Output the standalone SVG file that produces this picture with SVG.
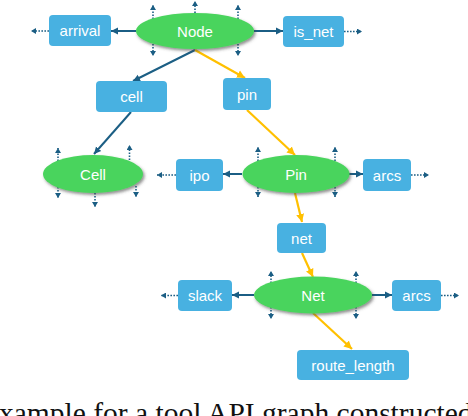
<svg xmlns="http://www.w3.org/2000/svg" width="468" height="416" viewBox="0 0 468 416">
<defs>
<style>
.box{fill:#48B1E1}
.ell{fill:#49D45D;filter:url(#sh)}
.lbl{font-family:"Liberation Sans",Arial,sans-serif;font-size:15px;fill:#fff;text-anchor:middle}
.e{stroke:#1B5E84;stroke-width:2;fill:none;marker-end:url(#ad)}
.o{stroke:#FFC000;stroke-width:2.2;fill:none;marker-end:url(#ao)}
.s{stroke:#1B5E84;stroke-width:1.6;stroke-dasharray:1.6 1.4;fill:none;marker-end:url(#as)}
.cap{font-family:"Liberation Serif","Times New Roman",serif;font-size:29.5px;fill:#111}
</style>
<filter id="sh" x="-20%" y="-30%" width="140%" height="170%">
<feDropShadow dx="1.5" dy="2" stdDeviation="1.5" flood-color="#444" flood-opacity="0.6"/>
</filter>
<marker id="ad" markerUnits="userSpaceOnUse" markerWidth="8" markerHeight="8" refX="7" refY="4" orient="auto"><path d="M0,0.5 L7,4 L0,7.5 z" fill="#1B5E84"/></marker>
<marker id="ao" markerUnits="userSpaceOnUse" markerWidth="9" markerHeight="9" refX="8" refY="4.5" orient="auto"><path d="M0,0.5 L8,4.5 L0,8.5 z" fill="#FFC000"/></marker>
<marker id="as" markerUnits="userSpaceOnUse" markerWidth="6" markerHeight="6" refX="5" refY="3" orient="auto"><path d="M0,0 L5,3 L0,6 z" fill="#1B5E84"/></marker>
</defs>

<g id="connectors">
<line class="e" x1="136" y1="31" x2="111" y2="31"/>
<line class="s" x1="49" y1="31" x2="31" y2="31"/>
<line class="e" x1="254" y1="31" x2="283" y2="31"/>
<line class="s" x1="344" y1="31.5" x2="362" y2="31.5"/>
<line class="e" x1="195" y1="50" x2="133" y2="81"/>
<line class="e" x1="131" y1="112" x2="94" y2="154"/>
<line class="o" x1="195" y1="50" x2="245" y2="78"/>
<line class="o" x1="247" y1="110" x2="295" y2="155"/>
<line class="e" x1="242" y1="174" x2="223" y2="174"/>
<line class="s" x1="176" y1="175" x2="157" y2="175"/>
<line class="e" x1="349" y1="174" x2="363" y2="174"/>
<line class="s" x1="411" y1="175" x2="429" y2="175"/>
<line class="o" x1="295" y1="193" x2="302" y2="222"/>
<line class="o" x1="302" y1="253" x2="313" y2="277"/>
<line class="e" x1="254" y1="295" x2="232" y2="295"/>
<line class="s" x1="178" y1="295.5" x2="161" y2="295.5"/>
<line class="e" x1="372" y1="295" x2="392" y2="295"/>
<line class="s" x1="441" y1="295.5" x2="459" y2="295.5"/>
<line class="o" x1="313" y1="313" x2="352" y2="349"/>
<!-- stubs Node -->
<line class="s" x1="153" y1="19" x2="153" y2="5"/>
<line class="s" x1="153" y1="44" x2="153" y2="56"/>
<line class="s" x1="195" y1="13" x2="195" y2="1"/>
<line class="s" x1="238" y1="19" x2="238" y2="5"/>
<line class="s" x1="238" y1="44" x2="238" y2="56"/>
<!-- stubs Cell -->
<line class="s" x1="58" y1="161" x2="58" y2="148"/>
<line class="s" x1="58" y1="187" x2="58" y2="198"/>
<line class="s" x1="129.5" y1="160" x2="129.5" y2="145"/>
<line class="s" x1="136" y1="186" x2="136" y2="197"/>
<line class="s" x1="95" y1="193" x2="95" y2="207"/>
<!-- stubs Pin -->
<line class="s" x1="258" y1="161" x2="258" y2="147"/>
<line class="s" x1="258" y1="187" x2="258" y2="197"/>
<line class="s" x1="335" y1="161" x2="335" y2="147"/>
<line class="s" x1="335" y1="187" x2="335" y2="197"/>
<!-- stubs Net -->
<line class="s" x1="271" y1="283" x2="271" y2="271"/>
<line class="s" x1="271" y1="307" x2="271" y2="319"/>
<line class="s" x1="356" y1="283" x2="356" y2="271"/>
<line class="s" x1="356" y1="307" x2="356" y2="319"/>
</g>

<g id="node-Node"><ellipse class="ell" cx="195" cy="31" rx="59" ry="18"/><text class="lbl" x="195" y="36.5">Node</text></g>
<g id="node-arrival"><rect class="box" x="49" y="15" width="62" height="31" rx="4"/><text class="lbl" x="80" y="36">arrival</text></g>
<g id="node-is_net"><rect class="box" x="283" y="16" width="61" height="31" rx="4"/><text class="lbl" x="313.5" y="37">is_net</text></g>
<g id="node-cell"><rect class="box" x="96" y="81" width="71" height="31" rx="4"/><text class="lbl" x="131.5" y="102">cell</text></g>
<g id="node-pin"><rect class="box" x="223" y="78" width="48" height="32" rx="4"/><text class="lbl" x="247" y="99.5">pin</text></g>
<g id="node-Cell"><ellipse class="ell" cx="93" cy="174" rx="50" ry="19"/><text class="lbl" x="93" y="179.5">Cell</text></g>
<g id="node-ipo"><rect class="box" x="176" y="159" width="47" height="32" rx="4"/><text class="lbl" x="199.5" y="180.5">ipo</text></g>
<g id="node-Pin"><ellipse class="ell" cx="296" cy="174" rx="53.5" ry="19"/><text class="lbl" x="296" y="179.5">Pin</text></g>
<g id="node-arcs1"><rect class="box" x="363" y="159" width="48" height="32" rx="4"/><text class="lbl" x="387" y="180.5">arcs</text></g>
<g id="node-net"><rect class="box" x="277" y="223" width="49" height="30" rx="4"/><text class="lbl" x="301.5" y="243.5">net</text></g>
<g id="node-Net"><ellipse class="ell" cx="313" cy="295" rx="59" ry="18.5"/><text class="lbl" x="313" y="300.5">Net</text></g>
<g id="node-slack"><rect class="box" x="178" y="280" width="54" height="31" rx="4"/><text class="lbl" x="205" y="301">slack</text></g>
<g id="node-arcs2"><rect class="box" x="392" y="280" width="49" height="31" rx="4"/><text class="lbl" x="416.5" y="301">arcs</text></g>
<g id="node-route_length"><rect class="box" x="297" y="350" width="112" height="30" rx="4"/><text class="lbl" x="353" y="370.5">route_length</text></g>

<text class="cap" x="-1" y="423">xample for a tool API graph constructed</text>
</svg>
